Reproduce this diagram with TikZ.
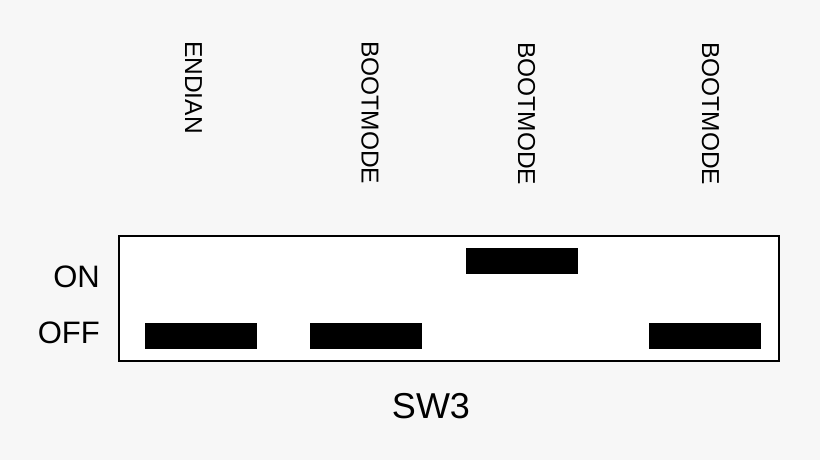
\documentclass[tikz,border=0pt]{standalone}
\usepackage{fontspec}
\setmainfont{Liberation Sans}
\usepackage{tikz}
\usetikzlibrary{positioning}
\definecolor{pagegray}{HTML}{F7F7F7}

\begin{document}
\begin{tikzpicture}[x=1pt, y=-1pt,
switchbox/.style={rectangle, draw=black, fill=white, line width=1.5pt, minimum width=660pt, minimum height=125pt, inner sep=0pt},
lever/.style={rectangle, fill=black, minimum width=112pt, minimum height=26pt, inner sep=0pt},
pinlabel/.style={rotate=-90, anchor=west, inner sep=0pt, font=\fontsize{24.5}{29}\selectfont},
statelabel/.style={anchor=east, inner sep=0pt, font=\fontsize{31}{36}\selectfont},
]
\useasboundingbox[fill=pagegray] (0,0) rectangle (820,460);
%Nodes
\node[switchbox] (box) at (449,298.5) {};
\node[lever] (endian) at (201,336) {};
\node[lever] (boota)  at (365.5,336) {};
\node[lever] (bootb)  at (521.5,261) {};
\node[lever] (bootc)  at (705,336) {};

\node[pinlabel] (lendian) at (193.5,41) {ENDIAN};
\node[pinlabel] (lboota)  at (370,41)   {BOOTMODE};
\node[pinlabel] (lbootb)  at (526.5,42) {BOOTMODE};
\node[pinlabel] (lbootc)  at (710.5,42) {BOOTMODE};

\node[statelabel] (on)  at (100,277) {ON};
\node[statelabel] (off) at (100,333) {OFF};
\node[inner sep=0pt, font=\fontsize{36}{42}\selectfont] (sw) at (431,406) {SW3};
\end{tikzpicture}
\end{document}
